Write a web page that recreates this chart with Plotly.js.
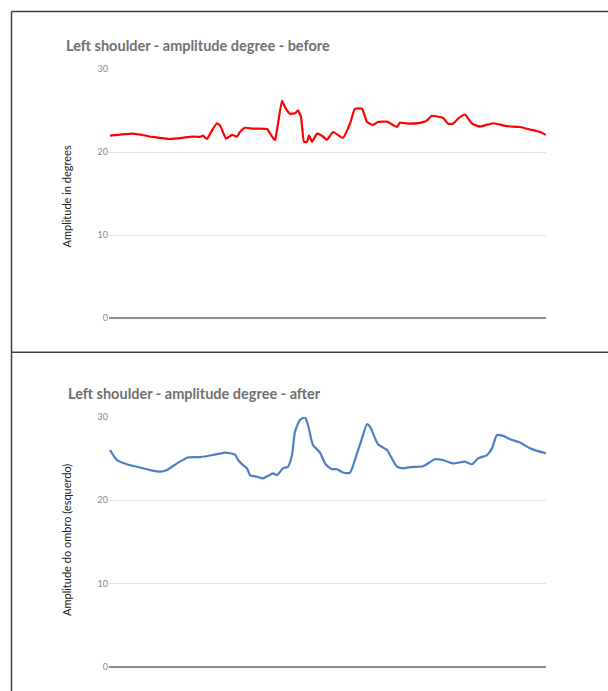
<!DOCTYPE html>
<html>
<head>
<meta charset="utf-8">
<script src="https://cdn.plot.ly/plotly-3.0.1.min.js"></script>
<style>html,body{margin:0;padding:0;background:#fff}#chart{width:608px;height:691px}</style>
</head>
<body>
<div id="chart"></div>
<script>
// Sample positions (frames) and amplitude values
const beforeFrames = [0,23,43,60,83,90,93,97,102,107,110,116,122,127,130,135,143,157,162,165,168,172,175,180,185,188,191,194,197,199,202,207,212,217,223,233,240,245,252,257,263,268,277,283,287,290,300,310,315,317,322,333,338,343,348,355,362,370,383,397,410,420,430,436];
const beforeValues = [22.0,22.25,21.85,21.6,21.9,21.85,22.0,21.6,22.65,23.5,23.25,21.65,22.1,21.9,22.45,22.95,22.85,22.8,21.9,21.45,23.45,26.2,25.45,24.65,24.7,25.05,24.25,21.25,21.25,22.05,21.25,22.25,22.0,21.5,22.45,21.75,23.45,25.25,25.25,23.65,23.3,23.65,23.7,23.3,23.05,23.55,23.45,23.55,23.7,23.85,24.4,24.15,23.45,23.45,24.05,24.55,23.45,23.1,23.5,23.15,23.05,22.75,22.45,22.1];

const afterFrames = [0,7,17,30,40,50,57,67,78,90,103,115,125,128,133,137,140,147,153,158,163,167,173,178,182,185,190,195,198,203,210,215,218,222,227,233,240,247,252,257,260,268,277,280,287,293,300,313,325,333,343,355,362,368,377,382,387,393,400,410,420,427,436];
const afterValues = [26.0,24.8,24.3,23.9,23.6,23.4,23.6,24.4,25.1,25.15,25.4,25.7,25.45,24.8,24.2,23.8,23.0,22.8,22.6,22.9,23.2,23.0,23.8,24.0,25.4,28.2,29.6,29.9,29.0,26.6,25.7,24.4,24.0,23.7,23.7,23.3,23.3,25.6,27.4,29.1,28.8,26.7,26.0,25.4,24.0,23.8,23.95,24.05,24.9,24.8,24.4,24.6,24.3,25.0,25.4,26.2,27.8,27.7,27.3,26.9,26.2,25.9,25.6];

const yTicks = [0,10,20,30];
const titleBefore = "Left shoulder - amplitude degree - before";
const titleAfter = "Left shoulder - amplitude degree - after";
const yTitleBefore = "Amplitude in degrees";
const yTitleAfter = "Amplitude do ombro (esquerdo)";

const W = 608, H = 691;
const px = v => v / W;
const py = v => 1 - v / H;

const traces = [
  {x: beforeFrames, y: beforeValues, type: 'scatter', mode: 'lines',
   line: {color: '#ff0000', width: 2.2, shape: 'spline', smoothing: 0.4}, xaxis: 'x', yaxis: 'y', hoverinfo: 'skip'},
  {x: afterFrames, y: afterValues, type: 'scatter', mode: 'lines',
   line: {color: '#4f7fc2', width: 2.2, shape: 'spline', smoothing: 0.6}, xaxis: 'x2', yaxis: 'y2', hoverinfo: 'skip'}
];

const yCommon = {
  range: [0, 30], tickvals: yTicks, ticktext: yTicks.map(String),
  showgrid: true, gridcolor: '#e3e3e3', gridwidth: 1,
  zeroline: true, zerolinecolor: '#8c8c8c', zerolinewidth: 2,
  showline: false, ticks: '', fixedrange: true,
  tickfont: {family: 'Lato, sans-serif', size: 9, color: '#888888'}
};
const xCommon = {
  range: [-1, 436], showgrid: false, zeroline: false, showline: false,
  showticklabels: false, ticks: '', fixedrange: true
};

const layout = {
  width: W, height: H,
  margin: {l: 0, r: 0, t: 0, b: 0},
  paper_bgcolor: '#ffffff', plot_bgcolor: 'rgba(0,0,0,0)',
  showlegend: false,
  xaxis: Object.assign({}, xCommon, {domain: [px(109), px(546)], anchor: 'y'}),
  yaxis: Object.assign({}, yCommon, {domain: [py(318.3), py(69.3)], anchor: 'x'}),
  xaxis2: Object.assign({}, xCommon, {domain: [px(109), px(546)], anchor: 'y2'}),
  yaxis2: Object.assign({}, yCommon, {domain: [py(666.7), py(416.7)], anchor: 'x2'}),
  annotations: [
    {text: titleBefore, xref: 'paper', yref: 'paper', x: px(64), y: py(45), xanchor: 'left', yanchor: 'middle',
     showarrow: false, font: {family: 'Lato, sans-serif', size: 14.5, color: '#707070', weight: 'bold'}},
    {text: titleAfter, xref: 'paper', yref: 'paper', x: px(66), y: py(393), xanchor: 'left', yanchor: 'middle',
     showarrow: false, font: {family: 'Lato, sans-serif', size: 14.5, color: '#707070', weight: 'bold'}},
    {text: yTitleBefore, xref: 'paper', yref: 'paper', x: px(65.5), y: py(197), xanchor: 'center', yanchor: 'middle',
     textangle: -90, showarrow: false, font: {family: 'Lato, sans-serif', size: 11, color: '#222222'}},
    {text: yTitleAfter, xref: 'paper', yref: 'paper', x: px(66), y: py(540), xanchor: 'center', yanchor: 'middle',
     textangle: -90, showarrow: false, font: {family: 'Lato, sans-serif', size: 11, color: '#222222'}}
  ],
  shapes: [
    {type: 'line', xref: 'paper', yref: 'paper', x0: px(11.5), x1: px(11.5), y0: py(11.5), y1: 0, line: {color: '#404040', width: 1.5}},
    {type: 'line', xref: 'paper', yref: 'paper', x0: px(11.5), x1: 1, y0: py(11.5), y1: py(11.5), line: {color: '#404040', width: 1.5}},
    {type: 'line', xref: 'paper', yref: 'paper', x0: px(11.5), x1: 1, y0: py(352.3), y1: py(352.3), line: {color: '#404040', width: 1.5}}
  ]
};

Plotly.newPlot('chart', traces, layout, {staticPlot: true, displayModeBar: false});
</script>
</body>
</html>
